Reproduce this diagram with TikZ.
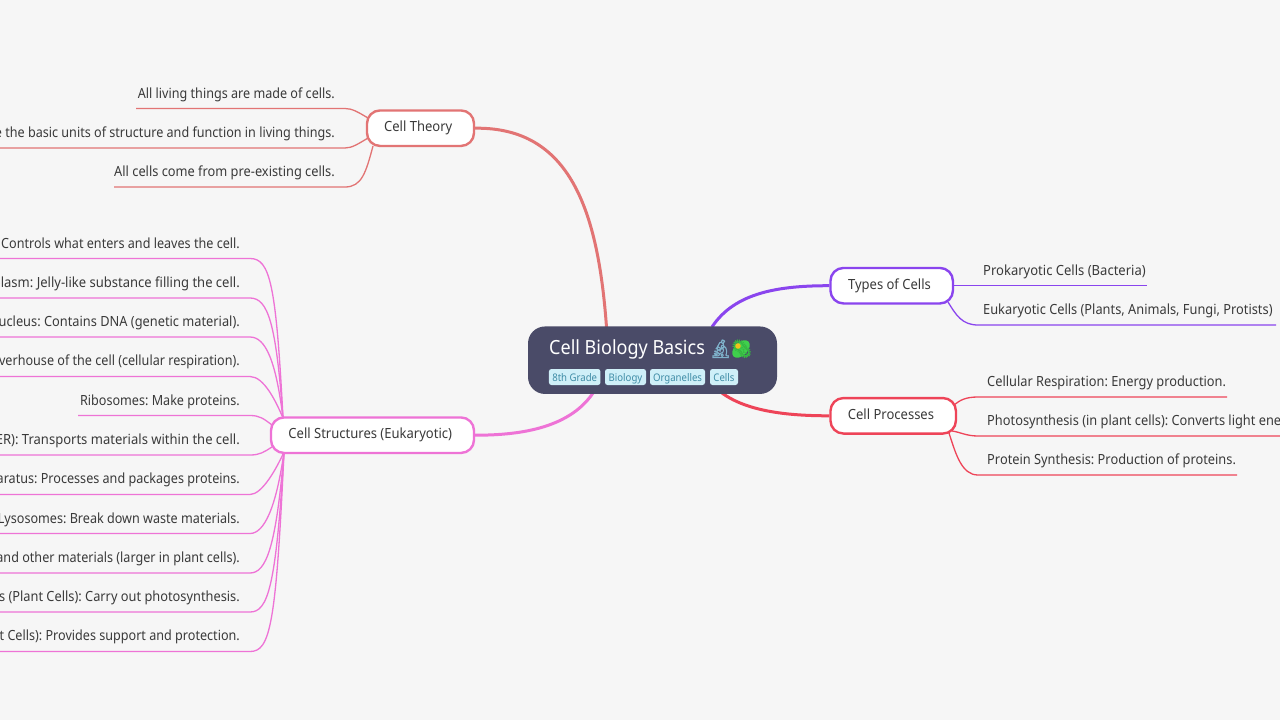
\documentclass[tikz,border=0pt]{standalone}
\usepackage{fontspec}
\setmainfont[FakeStretch=0.9]{Noto Sans}
\newfontfamily\widerfont[FakeStretch=0.93]{Noto Sans}
\newfontfamily\midfont[FakeStretch=0.915]{Noto Sans}
\newfontfamily\emojifont[FakeBold=2]{Noto Emoji}
\usetikzlibrary{backgrounds}
\definecolor{pagebg}{HTML}{F6F6F6}
\definecolor{inkc}{HTML}{3A3A3A}
\definecolor{rootc}{HTML}{4A4B68}
\definecolor{tagbg}{HTML}{CFEFF8}
\definecolor{taginkc}{HTML}{3F8CA6}
\definecolor{theoryc}{HTML}{E27474}
\definecolor{typesc}{HTML}{8A45EE}
\definecolor{procc}{HTML}{EE4458}
\definecolor{structc}{HTML}{EE73D6}
\definecolor{scopec}{HTML}{7FB2CB}
\definecolor{microbec}{HTML}{3FD04C}
\definecolor{spotc}{HTML}{F2C21B}
\tikzset{
  x=1pt,y=-1pt,
  rootbox/.style={draw=none,fill=rootc,rounded corners=17pt,minimum width=249pt,minimum height=67.5pt,inner sep=0pt},
  branch/.style={draw=#1,fill=white,line width=2.4pt,rounded corners=13pt,minimum height=35.5pt,inner sep=0pt,text=inkc,text height=10.5pt,text depth=3pt,font=\fontsize{14}{16}\selectfont\widerfont,execute at end node=\hspace{4.5pt}},
  trunk/.style={draw=#1,line width=3pt},
  twig/.style={draw=#1,line width=1.3pt},
  leafL/.style={anchor=base east,inner sep=0pt,text=inkc,font=\fontsize{14}{16}\selectfont},
  leafR/.style={anchor=base west,inner sep=0pt,text=inkc,font=\fontsize{14}{16}\selectfont},
  tagbox/.style={fill=tagbg,rounded corners=2.5pt,minimum height=16pt,inner sep=0pt,text=taginkc,font=\fontsize{10.5}{12}\selectfont\midfont,text height=9.5pt,text depth=1.5pt}
}
\begin{document}
\frenchspacing
\begin{tikzpicture}
\useasboundingbox (0,0) rectangle (1280,720);
\clip (0,0) rectangle (1280,720);
\begin{scope}[on background layer]
\fill[pagebg] (0,0) rectangle (1280,720);
\end{scope}
% root
\node[rootbox] (root) at (652.5,360.2) {};
\node[anchor=base west,inner sep=0pt,text=white,font=\fontsize{19.5}{22}\selectfont\midfont,xscale=1.01] (title) at (549,354) {Cell Biology Basics};
\fill[microbec,rotate around={45:(741,349)}] (741,349) ellipse [x radius=10.5,y radius=6.5];
\node[anchor=base west,inner sep=0pt,text=scopec,font=\fontsize{18}{22}\selectfont] (em1) at (709,355) {\emojifont 🔬};
\node[anchor=base west,inner sep=0pt,text=microbec!88!black,font=\fontsize{18}{22}\selectfont] (em2) at (730,355) {\emojifont 🦠};
\fill[spotc] (738,346) circle (2.8);
\node[tagbox,minimum width=51.5pt] (t1) at (574.7,377) {8th Grade};
\node[tagbox,minimum width=41pt] (t2) at (625.5,377) {Biology};
\node[tagbox,minimum width=55pt] (t3) at (677.5,377) {Organelles};
\node[tagbox,minimum width=28pt] (t4) at (724,377) {Cells};
% branches
\node[branch=theoryc,minimum width=107pt] (theory) at (420.5,128.2) {Cell Theory};
\node[branch=structc,minimum width=203pt] (struct) at (372.5,435.2) {Cell Structures (Eukaryotic)};
\node[branch=typesc,minimum width=122.5pt] (types) at (891.7,285.7) {Types of Cells};
\node[branch=procc,minimum width=125.5pt] (proc) at (893.2,415.8) {Cell Processes};
% leaves: theory
\node[leafL] (a1) at (335,98) {All living things are made of cells.};
\node[leafL] (a2) at (335,137) {e the basic units of structure and function in living things.};
\node[leafL] (a3) at (335,176) {\midfont All cells come from pre-existing cells.};
\coordinate (a1s) at (136,108.5); \coordinate (a1e) at (345,108.5);
\coordinate (a2s) at (-2,148); \coordinate (a2e) at (345,148);
\coordinate (a3s) at (114,187); \coordinate (a3e) at (345,187);
% leaves: structures
\node[leafL] (b1) at (240,248) {Controls what enters and leaves the cell.};
\node[leafL] (b2) at (240,287) {\widerfont plasm: Jelly-like substance filling the cell.};
\node[leafL] (b3) at (240,326) {\midfont ucleus: Contains DNA (genetic material).};
\node[leafL] (b4) at (240,365.5) {verhouse of the cell (cellular respiration).};
\node[leafL] (b5) at (240,405) {Ribosomes: Make proteins.};
\node[leafL] (b6) at (240,444) {\widerfont ER): Transports materials within the cell.};
\node[leafL] (b7) at (240,483.5) {aratus: Processes and packages proteins.};
\node[leafL] (b8) at (240,523) {Lysosomes: Break down waste materials.};
\node[leafL] (b9) at (240,562) {and other materials (larger in plant cells).};
\node[leafL] (b10) at (240,601) {\midfont s (Plant Cells): Carry out photosynthesis.};
\node[leafL] (b11) at (240,640.5) {t Cells): Provides support and protection.};
% leaves: right
\node[leafR] (c1) at (983,275) {\widerfont Prokaryotic Cells (Bacteria)};
\node[leafR] (c2) at (983,314) {\midfont Eukaryotic Cells (Plants, Animals, Fungi, Protists)};
\node[leafR] (d1) at (987,386) {\midfont Cellular Respiration: Energy production.};
\node[leafR] (d2) at (987,425) {\midfont Photosynthesis (in plant cells): Converts light ene};
\node[leafR] (d3) at (987,464) {\midfont Protein Synthesis: Production of proteins.};
\begin{scope}[on background layer]
\draw[trunk=theoryc] (606.5,327) .. controls (598,210) and (570,127) .. (theory.east);
\draw[trunk=structc] (593,393) .. controls (568,430) and (515,435.2) .. (struct.east);
\draw[trunk=typesc] (712,327) .. controls (735,292) and (780,285.7) .. (types.west);
\draw[trunk=procc] (722,393) .. controls (748,412) and (790,415.8) .. (proc.west);
% theory twigs
\draw[twig=theoryc] (368,118) .. controls (358,112) and (352,108.5) .. (a1e) -- (a1s);
\draw[twig=theoryc] (368,138) .. controls (358,144) and (352,148) .. (a2e) -- (a2s);
\draw[twig=theoryc] (373,146) .. controls (366,172) and (362,187) .. (a3e) -- (a3s);
% structure twigs
\foreach \n/\y/\xs in {1/258.5/-2,2/298/-2,3/337/-2,4/376.5/-2}{
  \draw[twig=structc] (283,418) .. controls (276,{\y+25}) and ({270-(\n-1)*2},\y) .. (250,\y) -- (\xs,\y);
}
\draw[twig=structc] (272,425) .. controls (264,419) and (260,415.5) .. (250,415.5) -- (78,415.5);
\draw[twig=structc] (272,447) .. controls (264,452) and (260,455) .. (250,455) -- (-2,455);
\foreach \n/\y/\xs in {7/494.5/-2,8/533.5/-2,9/573/-2,10/612/-2,11/651.5/-2}{
  \draw[twig=structc] (284,452) .. controls (276,{\y-25}) and ({270-(11-\n)*2},\y) .. (250,\y) -- (\xs,\y);
}
% types twigs
\draw[twig=typesc] (types.east) -- (1147,285.7);
\draw[twig=typesc] (948,302) .. controls (956,315) and (962,325) .. (978,325) -- (1276,325);
% process twigs
\draw[twig=procc] (954,405) .. controls (960,400) and (966,397) .. (978,397) -- (1227,397);
\draw[twig=procc] (952,431) .. controls (960,432) and (966,436) .. (978,436) -- (1282,436);
\draw[twig=procc] (949,433) .. controls (956,455) and (962,475) .. (978,475) -- (1237,475);
\end{scope}
\end{tikzpicture}
\end{document}
